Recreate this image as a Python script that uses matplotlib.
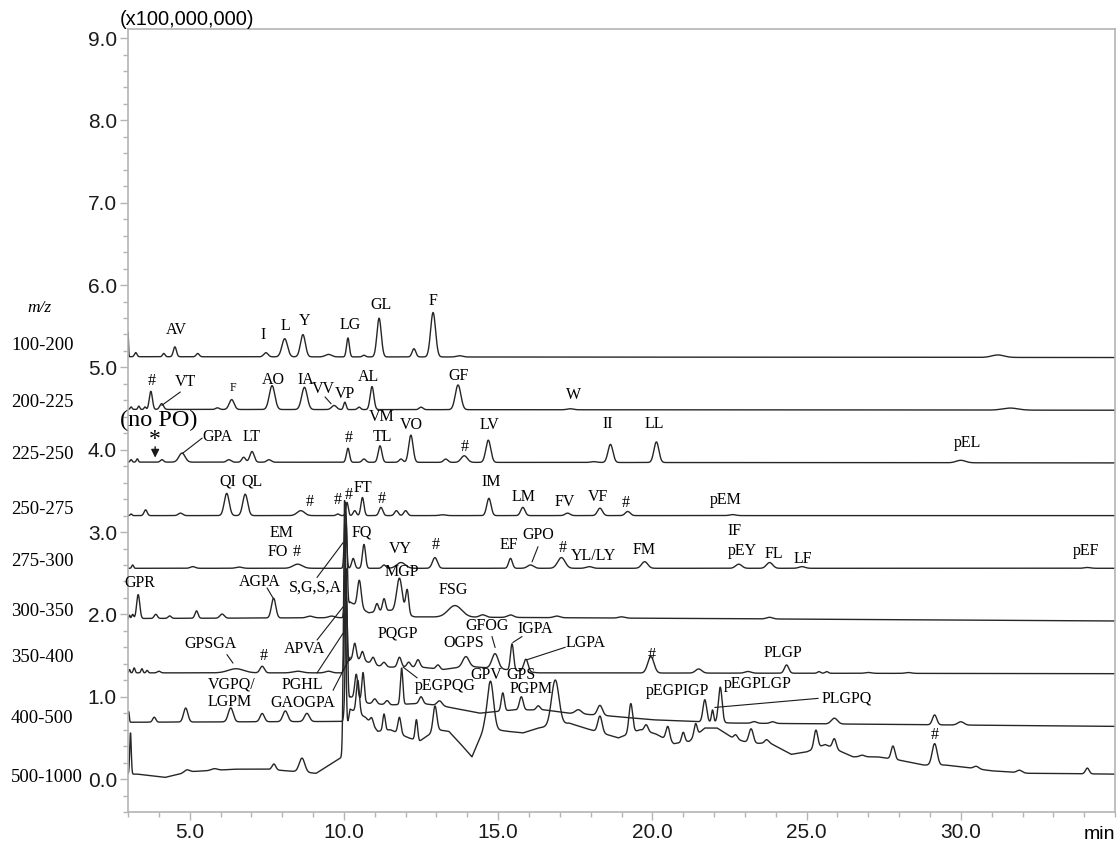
import numpy as np
import matplotlib
matplotlib.use("Agg")
import matplotlib.pyplot as plt
import matplotlib.transforms as mtransforms
from matplotlib.ticker import MultipleLocator

# time grid the traces are drawn on (min)
t = np.arange(3.0, 35.0005, 0.004)

# ---- chromatogram data ----
# baselines: (time, level) ; peaks: (time, height above baseline, width)
mz_100_200_base = [(3.0, 5.13), (35.0, 5.12)]
mz_100_200_peaks = [(3.0, 0.30, 0.015), (3.25, 0.05, 0.04), (4.16, 0.04, 0.04), (4.52, 0.12, 0.05),
                    (5.26, 0.04, 0.05), (7.47, 0.05, 0.07), (8.08, 0.22, 0.09), (8.67, 0.27, 0.08),
                    (9.5, 0.03, 0.1), (10.13, 0.23, 0.045), (10.65, 0.02, 0.05), (11.14, 0.47, 0.07),
                    (12.27, 0.10, 0.06), (12.89, 0.54, 0.08), (13.75, 0.015, 0.1), (31.2, 0.03, 0.2)]

mz_200_225_base = [(3.0, 4.49), (35.0, 4.48)]
mz_200_225_peaks = [(3.1, 0.03, 0.03), (3.35, 0.04, 0.03), (3.55, 0.03, 0.03), (3.74, 0.22, 0.05),
                    (4.09, 0.07, 0.06), (5.9, 0.02, 0.06), (6.36, 0.12, 0.08), (7.67, 0.29, 0.09),
                    (8.72, 0.27, 0.09), (9.68, 0.05, 0.08), (10.03, 0.09, 0.04), (10.49, 0.03, 0.05),
                    (10.91, 0.28, 0.06), (12.5, 0.03, 0.06), (13.7, 0.30, 0.09), (17.34, 0.012, 0.1),
                    (31.6, 0.025, 0.25)]

mz_225_250_base = [(3.0, 3.85), (35.0, 3.84)]
mz_225_250_peaks = [(3.1, 0.03, 0.03), (3.3, 0.04, 0.03), (4.1, 0.03, 0.05), (4.75, 0.11, 0.1),
                    (6.27, 0.03, 0.07), (6.75, 0.06, 0.06), (7.02, 0.13, 0.07), (7.57, 0.03, 0.07),
                    (10.13, 0.17, 0.05), (10.65, 0.04, 0.06), (11.17, 0.2, 0.06), (11.85, 0.04, 0.06),
                    (12.17, 0.33, 0.07), (13.3, 0.04, 0.07), (13.9, 0.08, 0.1), (14.68, 0.27, 0.08),
                    (18.1, 0.01, 0.1), (18.64, 0.22, 0.08), (20.13, 0.25, 0.08), (30.0, 0.03, 0.15)]

mz_250_275_base = [(3.0, 3.20), (35.0, 3.20)]
mz_250_275_peaks = [(3.1, 0.02, 0.03), (3.57, 0.07, 0.05), (4.7, 0.03, 0.07), (6.2, 0.27, 0.08),
                    (6.8, 0.26, 0.08), (8.6, 0.06, 0.12), (9.8, 0.02, 0.05), (10.1, 0.16, 0.04),
                    (10.35, 0.06, 0.05), (10.6, 0.22, 0.05), (11.2, 0.1, 0.06), (11.7, 0.06, 0.06),
                    (12.0, 0.06, 0.06), (13.2, 0.01, 0.1), (14.7, 0.21, 0.07), (15.8, 0.1, 0.07),
                    (17.25, 0.03, 0.08), (18.3, 0.09, 0.08), (19.2, 0.05, 0.08), (22.6, 0.012, 0.1)]

mz_275_300_base = [(3.0, 2.56), (35.0, 2.56)]
mz_275_300_peaks = [(3.15, 0.04, 0.03), (5.1, 0.02, 0.08), (6.6, 0.015, 0.1), (8.5, 0.05, 0.15),
                    (10.05, 0.8, 0.035), (10.3, 0.12, 0.05), (10.65, 0.29, 0.05), (11.3, 0.04, 0.06),
                    (11.85, 0.07, 0.14), (12.95, 0.13, 0.08), (15.4, 0.12, 0.06), (16.05, 0.04, 0.1),
                    (17.05, 0.13, 0.12), (17.95, 0.02, 0.1), (19.75, 0.08, 0.1), (22.8, 0.05, 0.1),
                    (23.8, 0.07, 0.1), (24.85, 0.02, 0.1), (34.1, 0.01, 0.1)]

mz_300_350_base = [(3.0, 1.95), (9.95, 1.96), (10.2, 2.15), (10.8, 2.02), (11.5, 2.05),
                   (12.3, 1.97), (35.0, 1.92)]
mz_300_350_peaks = [(3.05, 0.04, 0.02), (3.15, 0.05, 0.03), (3.33, 0.29, 0.05), (3.9, 0.05, 0.05),
                    (4.35, 0.03, 0.05), (5.22, 0.09, 0.05), (6.05, 0.05, 0.07), (7.72, 0.24, 0.07),
                    (8.9, 0.02, 0.1), (9.6, 0.02, 0.1), (10.07, 1.05, 0.035), (10.5, 0.33, 0.06),
                    (11.07, 0.1, 0.05), (11.3, 0.15, 0.05), (11.8, 0.42, 0.09), (12.05, 0.3, 0.05),
                    (13.6, 0.14, 0.22), (14.5, 0.03, 0.1), (15.4, 0.03, 0.1), (16.9, 0.02, 0.1),
                    (19.0, 0.015, 0.1), (23.8, 0.02, 0.1)]

mz_350_400_base = [(3.0, 1.29), (9.95, 1.29), (10.2, 1.45), (10.6, 1.45), (11.0, 1.38), (11.5, 1.36),
                   (12.5, 1.36), (13.2, 1.33), (14.0, 1.37), (15.0, 1.34), (16.3, 1.29), (35.0, 1.28)]
mz_350_400_peaks = [(3.05, 0.04, 0.02), (3.2, 0.06, 0.03), (3.45, 0.05, 0.03), (3.62, 0.03, 0.03),
                    (4.0, 0.02, 0.05), (6.5, 0.05, 0.25), (7.35, 0.08, 0.07), (8.5, 0.02, 0.15),
                    (9.5, 0.02, 0.1), (10.06, 1.2, 0.035), (10.35, 0.2, 0.05), (10.6, 0.1, 0.05),
                    (10.95, 0.09, 0.06), (11.3, 0.05, 0.06), (11.8, 0.12, 0.06), (12.1, 0.06, 0.06),
                    (12.4, 0.09, 0.06), (13.05, 0.05, 0.06), (13.95, 0.12, 0.1), (14.9, 0.18, 0.1),
                    (15.45, 0.32, 0.05), (15.9, 0.15, 0.07), (19.95, 0.2, 0.1), (21.5, 0.05, 0.1),
                    (23.1, 0.02, 0.1), (24.35, 0.1, 0.07), (25.4, 0.02, 0.05), (25.65, 0.02, 0.05),
                    (27.0, 0.01, 0.1), (28.3, 0.01, 0.1)]

mz_400_500_base = [(3.0, 0.69), (9.95, 0.70), (10.2, 1.0), (10.8, 0.92), (11.5, 0.9), (12.5, 0.92),
                   (13.3, 0.88), (14.4, 0.80), (15.5, 0.84), (16.5, 0.84), (17.3, 0.8), (18.5, 0.77),
                   (20.0, 0.72), (21.3, 0.70), (22.6, 0.68), (35.0, 0.64)]
mz_400_500_peaks = [(3.02, 0.13, 0.02), (3.85, 0.06, 0.05), (4.87, 0.17, 0.07), (6.33, 0.17, 0.08),
                    (7.35, 0.1, 0.07), (8.1, 0.13, 0.08), (8.8, 0.1, 0.08), (10.08, 1.35, 0.035),
                    (10.4, 0.3, 0.05), (10.62, 0.35, 0.04), (11.0, 0.06, 0.06), (11.4, 0.05, 0.06),
                    (11.87, 0.44, 0.04), (12.5, 0.08, 0.06), (13.1, 0.06, 0.08), (15.15, 0.22, 0.05),
                    (15.75, 0.16, 0.06), (16.3, 0.05, 0.06), (17.6, 0.05, 0.1), (18.3, 0.12, 0.08),
                    (21.7, 0.27, 0.06), (21.95, 0.15, 0.035), (22.2, 0.43, 0.06), (23.3, 0.02, 0.08),
                    (23.9, 0.02, 0.08), (25.9, 0.07, 0.1), (29.15, 0.12, 0.07), (30.0, 0.04, 0.1)]

mz_500_1000_base = [(3.0, 0.06), (3.3, 0.06), (4.2, 0.02), (5.0, 0.09), (6.5, 0.12), (7.5, 0.12),
                    (9.1, 0.07), (9.95, 0.27), (10.2, 0.85), (10.7, 0.75), (11.1, 0.58), (11.5, 0.6),
                    (12.1, 0.5), (12.45, 0.46), (13.0, 0.6), (13.4, 0.58), (13.75, 0.44), (14.15, 0.27),
                    (14.55, 0.62), (15.3, 0.58), (15.8, 0.56), (16.3, 0.62), (17.3, 0.68), (17.8, 0.62),
                    (18.9, 0.5), (19.6, 0.6), (20.1, 0.55), (20.7, 0.43), (21.2, 0.46), (21.7, 0.62),
                    (22.1, 0.62), (22.6, 0.5), (23.2, 0.43), (23.8, 0.44), (24.5, 0.3), (25.0, 0.33),
                    (25.6, 0.42), (26.5, 0.27), (27.3, 0.27), (28.0, 0.23), (28.8, 0.17), (29.5, 0.17),
                    (30.0, 0.15), (31.0, 0.1), (32.2, 0.07), (35.0, 0.06)]
mz_500_1000_peaks = [(3.08, 0.5, 0.025), (4.9, 0.03, 0.08), (5.8, 0.02, 0.1), (7.73, 0.07, 0.06),
                     (8.64, 0.17, 0.09), (10.02, 2.95, 0.035), (10.45, 0.4, 0.05), (10.9, 0.08, 0.05),
                     (11.3, 0.2, 0.04), (11.8, 0.2, 0.05), (12.35, 0.25, 0.04), (12.95, 0.3, 0.06),
                     (14.75, 0.58, 0.1), (16.85, 0.55, 0.12), (18.3, 0.2, 0.07), (19.3, 0.36, 0.06),
                     (19.8, 0.08, 0.06), (20.5, 0.17, 0.06), (21.0, 0.12, 0.05), (21.4, 0.15, 0.05),
                     (22.7, 0.05, 0.06), (23.2, 0.18, 0.07), (23.7, 0.04, 0.06), (25.3, 0.22, 0.06),
                     (25.9, 0.12, 0.06), (26.8, 0.02, 0.08), (27.8, 0.16, 0.06), (29.15, 0.26, 0.08),
                     (30.5, 0.03, 0.08), (31.9, 0.03, 0.08), (34.1, 0.07, 0.06)]

traces = [
    ("100-200", 5.27, mz_100_200_base, mz_100_200_peaks),
    ("200-225", 4.57, mz_200_225_base, mz_200_225_peaks),
    ("225-250", 3.94, mz_225_250_base, mz_225_250_peaks),
    ("250-275", 3.27, mz_250_275_base, mz_250_275_peaks),
    ("275-300", 2.64, mz_275_300_base, mz_275_300_peaks),
    ("300-350", 2.03, mz_300_350_base, mz_300_350_peaks),
    ("350-400", 1.48, mz_350_400_base, mz_350_400_peaks),
    ("400-500", 0.74, mz_400_500_base, mz_400_500_peaks),
    ("500-1000", 0.02, mz_500_1000_base, mz_500_1000_peaks),
]

# peak annotations: (text, time, level)
peak_labels = [
    ("AV", 4.56, 5.46), ("I", 7.38, 5.39), ("L", 8.10, 5.50), ("Y", 8.74, 5.56), ("LG", 10.20, 5.52),
    ("GL", 11.20, 5.76), ("F", 12.89, 5.81),
    ("#", 3.78, 4.84), ("VT", 4.85, 4.82), ("AO", 7.70, 4.85), ("IA", 8.77, 4.85),
    ("VV", 9.32, 4.74), ("VP", 10.04, 4.68), ("AL", 10.81, 4.88), ("GF", 13.70, 4.90), ("W", 17.43, 4.67),
    ("GPA", 5.89, 4.16), ("LT", 7.02, 4.16), ("#", 10.17, 4.14), ("VM", 11.24, 4.40),
    ("TL", 11.24, 4.16), ("VO", 12.18, 4.30), ("#", 13.93, 4.03), ("LV", 14.71, 4.30), ("II", 18.56, 4.31),
    ("LL", 20.05, 4.31), ("pEL", 30.20, 4.08),
    ("QI", 6.24, 3.61), ("QL", 7.02, 3.61), ("#", 8.90, 3.37), ("#", 9.81, 3.39), ("#", 10.17, 3.45),
    ("FT", 10.62, 3.54), ("#", 11.24, 3.40), ("IM", 14.77, 3.61), ("LM", 15.84, 3.43), ("FV", 17.17, 3.37),
    ("VF", 18.24, 3.43), ("#", 19.15, 3.35), ("pEM", 22.39, 3.39),
    ("EM", 7.99, 2.99), ("FO", 7.86, 2.76), ("#", 8.48, 2.76), ("FQ", 10.59, 2.99), ("VY", 11.82, 2.79),
    ("#", 12.99, 2.84), ("EF", 15.35, 2.84), ("GPO", 16.29, 2.96), ("#", 17.10, 2.81),
    ("YL/LY", 18.08, 2.71), ("FM", 19.73, 2.78), ("IF", 22.65, 3.01), ("pEY", 22.91, 2.77),
    ("FL", 23.94, 2.73), ("LF", 24.88, 2.67), ("pEF", 34.06, 2.77),
    ("GPR", 3.39, 2.38), ("AGPA", 7.28, 2.39), ("S,G,S,A", 9.06, 2.33), ("MGP", 11.88, 2.52),
    ("FSG", 13.54, 2.30),
    ("GPSGA", 5.66, 1.64), ("#", 7.41, 1.49), ("APVA", 8.71, 1.58), ("PQGP", 11.75, 1.77),
    ("OGPS", 13.89, 1.65), ("GFOG", 14.64, 1.86), ("IGPA", 16.20, 1.82), ("LGPA", 17.82, 1.65),
    ("#", 19.99, 1.51), ("PLGP", 24.24, 1.53),
    ("VGPQ/", 6.37, 1.15), ("LGPM", 6.31, 0.94), ("PGHL", 8.64, 1.14), ("GAOGPA", 8.67, 0.92),
    ("pEGPQG", 13.28, 1.13), ("GPV", 14.61, 1.26), ("GPS", 15.74, 1.26), ("PGPM", 16.07, 1.09),
    ("pEGPIGP", 20.80, 1.07), ("pEGPLGP", 23.43, 1.15), ("PLGPQ", 26.31, 0.98),
    ("#", 29.16, 0.53),
]

# leader lines: (t0, y0, t1, y1)
leaders = [
    (4.69, 4.70, 4.10, 4.54), (9.39, 4.64, 9.58, 4.56), (5.40, 4.14, 4.78, 3.96),
    (16.29, 2.82, 16.10, 2.64), (9.13, 2.45, 9.97, 2.87), (7.51, 2.32, 7.70, 2.20),
    (6.21, 1.51, 6.40, 1.41), (9.13, 1.69, 9.97, 2.09), (14.80, 1.73, 14.90, 1.60),
    (15.77, 1.73, 15.48, 1.66), (17.17, 1.60, 15.94, 1.45), (9.13, 1.29, 9.97, 1.77),
    (9.65, 1.08, 10.20, 1.48), (12.37, 1.23, 11.92, 1.36), (25.37, 0.98, 22.03, 0.87),
]


def build(base, peaks):
    bt = [b[0] for b in base]
    by = [b[1] for b in base]
    y = np.interp(t, bt, by)
    for pt, ph, pw in peaks:
        y = y + ph * np.exp(-0.5 * ((t - pt) / pw) ** 2)
    return y


plt.rcParams['font.family'] = ['Liberation Sans', 'DejaVu Sans']
serif = 'Liberation Serif'
axcol = '#b4b4b4'

fig = plt.figure(figsize=(11.2, 8.46), dpi=100)
ax = fig.add_axes([0.1143, 0.0402, 0.8813, 0.9255])

for name, ylab, base, peaks in traces:
    ax.plot(t, build(base, peaks), color='#262626', lw=1.0)

ax.set_xlim(3.0, 35.0)
ax.set_ylim(-0.4, 9.11)

ax.xaxis.set_minor_locator(MultipleLocator(1))
ax.yaxis.set_minor_locator(MultipleLocator(0.2))
ax.set_xticks([5, 10, 15, 20, 25, 30])
ax.set_xticklabels(['%.1f' % v for v in [5, 10, 15, 20, 25, 30]])
ax.set_yticks(np.arange(0, 10))
ax.set_yticklabels(['%.1f' % v for v in range(10)])
ax.tick_params(which='major', direction='out', length=6, width=1, color=axcol,
               labelsize=15, labelcolor='#1a1a1a', pad=2)
ax.tick_params(which='minor', direction='out', length=3.5, width=1, color=axcol)
for s in ax.spines.values():
    s.set_color(axcol)
    s.set_linewidth(1.2)

ax.text(-0.008, 1.012, '(x100,000,000)', transform=ax.transAxes, ha='left', va='center', fontsize=14.5)
fig.text(0.996, 0.004, 'min', ha='right', va='bottom', fontsize=14)

# trace names on the left
blend = mtransforms.blended_transform_factory(ax.transAxes, ax.transData)
for name, ylab, base, peaks in traces:
    ax.text(-0.1185, ylab, name, transform=blend, ha='left', va='center',
            family=serif, fontsize=13.5, clip_on=False)
ax.text(-0.09, 5.72, 'm/z', transform=blend, ha='center', va='center',
        family=serif, style='italic', fontsize=12.5)

for txt, x, y in peak_labels:
    ax.text(x, y, txt, ha='center', va='center', family=serif, fontsize=11.5)
ax.text(6.40, 4.75, 'F', ha='center', va='center', family=serif, fontsize=8.5)

for x0, y0, x1, y1 in leaders:
    ax.plot([x0, x1], [y0, y1], color='#1a1a1a', lw=0.8)

# (no PO) marker
ax.text(4.00, 4.36, '(no PO)', ha='center', va='center', family=serif, fontsize=17.5)
ax.text(3.88, 4.12, '*', ha='center', va='center', family=serif, fontsize=17)
ax.annotate('', xy=(3.88, 3.87), xytext=(3.88, 4.07),
            arrowprops=dict(arrowstyle='-|>', color='#1a1a1a', lw=1.0, mutation_scale=12))

fig.savefig('out.png', dpi=100)
